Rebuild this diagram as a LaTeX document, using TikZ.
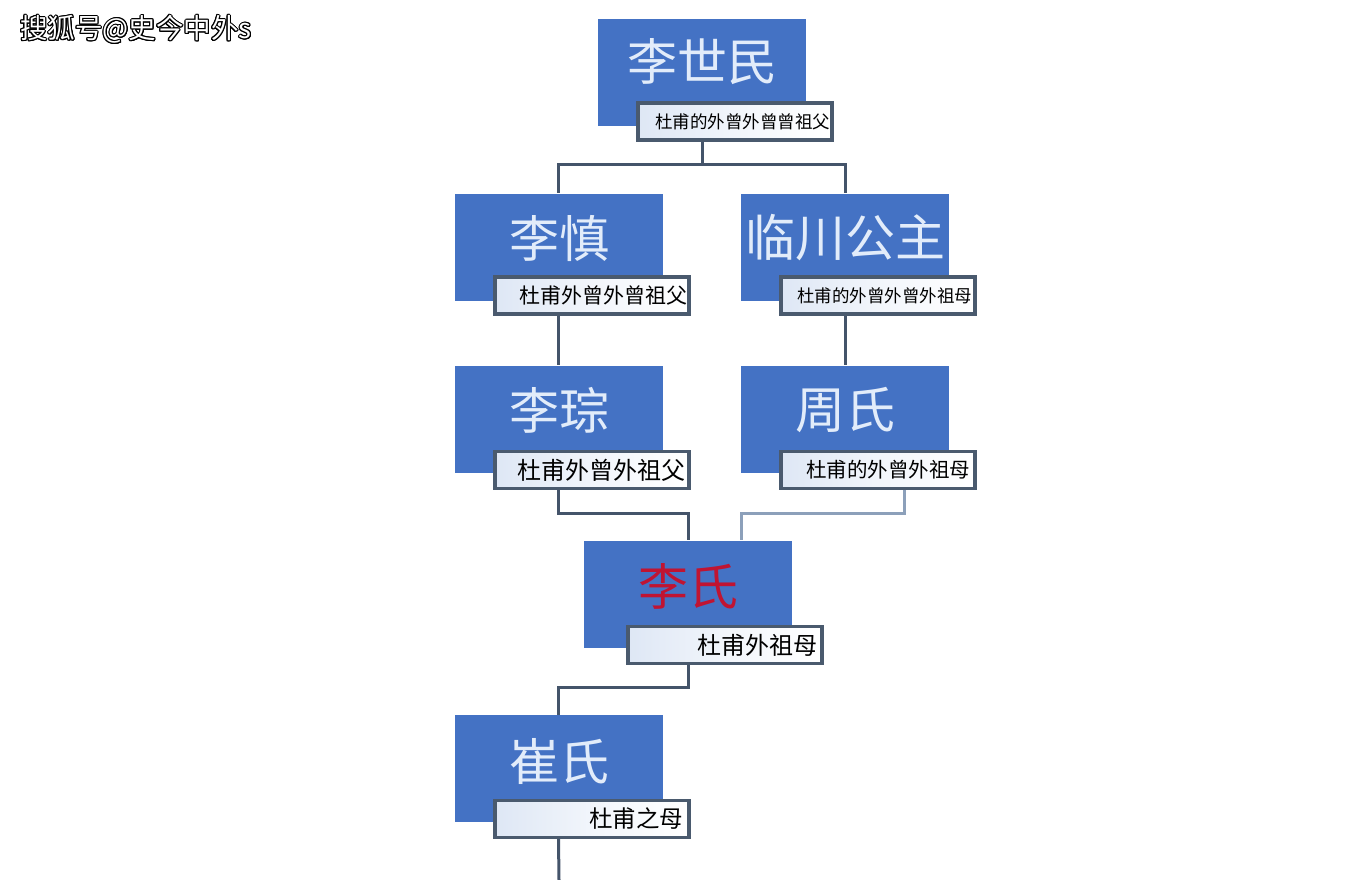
\documentclass[tikz,border=0pt]{standalone}
\usepackage{fontspec}
\usepackage{contour}
\contourlength{0.9pt}
\contournumber{16}
\newfontfamily\cjk{Noto Sans CJK SC}
\definecolor{boxblue}{RGB}{68,114,196}
\definecolor{boxtext}{RGB}{226,236,250}
\definecolor{redtext}{RGB}{192,20,50}
\definecolor{linedark}{RGB}{68,84,106}
\definecolor{linelight}{RGB}{140,160,186}
\definecolor{labborder}{RGB}{74,90,110}
\definecolor{labshade}{RGB}{222,231,245}
\tikzset{
  person/.style={fill=boxblue, draw=none, minimum width=208pt, minimum height=107pt, inner sep=0pt},
  maintext/.style={text=boxtext, inner sep=0pt, font=\cjk\fontsize{50}{50}\selectfont},
  labbox/.style={draw=labborder, line width=3.2pt, left color=labshade, right color=white, middle color=white!60!labshade, minimum width=194pt, minimum height=37pt, inner sep=0pt},
  labtext/.style={text=black, inner sep=0pt, anchor=east},
  conn/.style={draw=linedark, line width=3pt},
  wmfont/.style={anchor=west, inner sep=0pt, font=\cjk\fontsize{27.5}{27.5}\selectfont},
}
\begin{document}
\begin{tikzpicture}[x=1pt,y=-1pt]
\useasboundingbox (0,0) rectangle (1355,880);
\fill[white] (0,0) rectangle (1355,880);

% junction coordinates
\coordinate (j1) at (0,165);
\coordinate (j2) at (0,513);
\coordinate (j3) at (0,687);
\coordinate (bottomend) at (559,880);

% boxes
\node[person] (b1) at (702,72.5) {};
\node[person] (b2) at (558.5,247) {};
\node[person] (b3) at (845,247) {};
\node[person] (b4) at (558.5,419) {};
\node[person] (b5) at (845,419) {};
\node[person] (b6) at (688,594) {};
\node[person] (b7) at (558.5,768.5) {};

% labels
\node[labbox] (l1) at (735,121.5) {};
\node[labbox] (l2) at (592,295.5) {};
\node[labbox] (l3) at (878,295.5) {};
\node[labbox] (l4) at (592,470) {};
\node[labbox] (l5) at (878,470) {};
\node[labbox] (l6) at (725,645) {};
\node[labbox] (l7) at (592,819) {};

% connectors
\draw[conn] (b1.south |- l1.south) -- (b1.south |- j1) -| (b2.north);
\draw[conn] (b1.south |- j1) -| (b3.north);
\draw[conn] (b2.south |- l2.south) -- (b4.north);
\draw[conn] (b3.south |- l3.south) -- (b5.north);
\draw[conn] (b4.south |- l4.south) -- (b4.south |- j2) -| (b6.north);
\draw[conn, draw=linelight] ([xshift=26pt]l5.south) -- ([xshift=26pt]l5.south |- j2) -| ([xshift=53pt]b6.north);
\draw[conn] (b6.south |- l6.south) -- (b6.south |- j3) -| (b7.north);
\draw[conn] (b7.south |- l7.south) -- (bottomend);

% main names
\node[maintext] (t1) at (702,62) {李世民};
\node[maintext] (t2) at (559,238) {李慎};
\node[maintext] (t3) at (845,238) {临川公主};
\node[maintext] (t4) at (559,410) {李琮};
\node[maintext] (t5) at (845,410) {周氏};
\node[maintext, text=redtext] (t6) at (688,586) {李氏};
\node[maintext] (t7) at (559,761) {崔氏};

% relation texts
\node[labtext, font=\cjk\fontsize{17.5}{17.5}\selectfont] (s1) at ([xshift=-3pt]l1.east) {杜甫的外曾外曾曾祖父};
\node[labtext, font=\cjk\fontsize{21}{21}\selectfont] (s2) at ([xshift=-3pt]l2.east) {杜甫外曾外曾祖父};
\node[labtext, font=\cjk\fontsize{17.5}{17.5}\selectfont] (s3) at ([xshift=-4pt]l3.east) {杜甫的外曾外曾外祖母};
\node[labtext, font=\cjk\fontsize{24}{24}\selectfont] (s4) at ([xshift=-5pt]l4.east) {杜甫外曾外祖父};
\node[labtext, font=\cjk\fontsize{20.5}{20.5}\selectfont] (s5) at ([xshift=-6pt]l5.east) {杜甫的外曾外祖母};
\node[labtext, font=\cjk\fontsize{24}{24}\selectfont] (s6) at ([xshift=-6pt]l6.east) {杜甫外祖母};
\node[labtext, font=\cjk\fontsize{23.5}{23.5}\selectfont] (s7) at ([xshift=-7pt]l7.east) {杜甫之母};

% watermark
\node[wmfont, text=white] (wm) at (20,30) {\contour{black}{搜狐号@史今中外s}};
\end{tikzpicture}
\end{document}
